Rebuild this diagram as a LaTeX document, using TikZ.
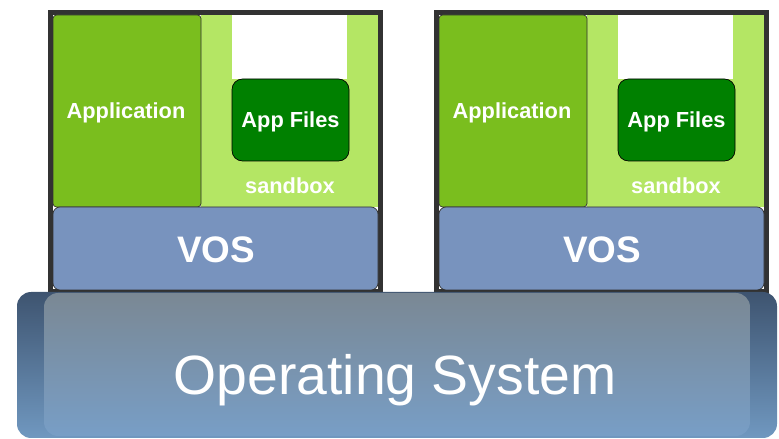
\documentclass[tikz,border=0pt]{standalone}
\usepackage{fontspec}
\setmainfont{Liberation Sans}
\definecolor{appgreen}{RGB}{122,190,30}
\definecolor{sbgreen}{RGB}{180,230,100}
\definecolor{filegreen}{RGB}{0,128,0}
\definecolor{vosblue}{RGB}{120,147,190}
\definecolor{framegray}{RGB}{50,50,50}
\definecolor{osdark}{RGB}{62,84,112}
\definecolor{oslight}{RGB}{112,152,192}
\definecolor{ostop}{RGB}{122,136,148}
\definecolor{osbottom}{RGB}{120,158,198}
\begin{document}
\begin{tikzpicture}[x=0.02cm,y=-0.02cm,
  lab/.style={text=white,font=\bfseries\fontsize{12.4}{14}\selectfont},
  voslab/.style={text=white,font=\bfseries\fontsize{21}{24}\selectfont},
  oslab/.style={text=white,font=\fontsize{31.5}{36}\selectfont}]
\useasboundingbox (0,0) rectangle (779,439);
% les deux piles
\foreach \s/\n in {0/l,386/r}{
\begin{scope}[xshift=\s*0.02cm]
\draw [framegray, line width=0.1cm] (50.5,12.5) rectangle (380.5,292);
\fill [sbgreen] (201,15) rectangle (378,207);
\fill [white] (232,15) rectangle (347,79);
\draw [framegray, fill=appgreen, rounded corners=2] (53,15) rectangle (201,207);
\draw [black, fill=filegreen, rounded corners=6] (232,79) rectangle (349,161);
\draw [framegray, fill=vosblue, rounded corners=4] (53,207) rectangle (378,290);
\node (app\n) at (126,113) [lab] {Application};
\node (files\n) at (290.5,122) [lab] {App Files};
\node (sb\n) at (290,186) [lab] {sandbox};
\node (vos\n) at (216,249.5) [voslab] {VOS};
\end{scope}}
% systeme
\shade [top color=osdark, bottom color=oslight, rounded corners=8] (17,292) rectangle (777,438);
\shade [top color=ostop, bottom color=osbottom, rounded corners=8] (44,293) rectangle (750,436);
\node (os) at (395,395) [oslab, anchor=base] {Operating System};
\end{tikzpicture}
\end{document}
